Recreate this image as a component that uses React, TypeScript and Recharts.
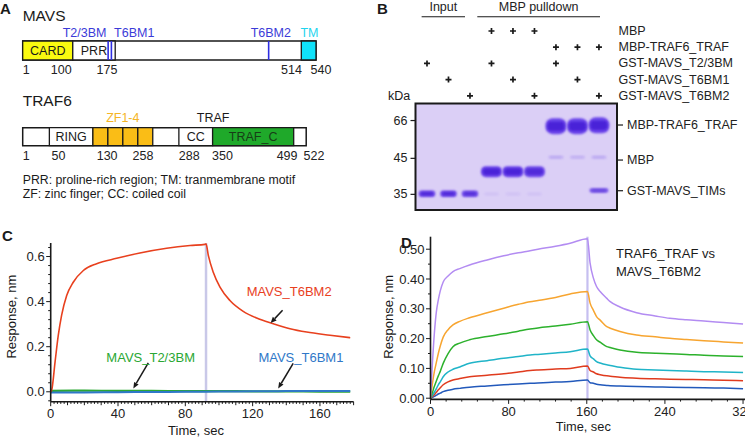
import React from 'react';
import {
  ComposedChart, LineChart, Line, ScatterChart, Scatter, XAxis, YAxis,
  ReferenceArea, ReferenceLine, ReferenceDot,
} from 'recharts';

const FONT = '"Liberation Sans", Arial, Helvetica, sans-serif';
const INK = '#1a1a1a';

// ---------------- Panel A: domain maps (residue numbers) ----------------
const mapScaleMax = 540;
const mavsLength = 540;
const mavsDomains = [
  { name: 'CARD', start: 1, end: 93, color: '#fafa10' },
  { name: 'PRR', start: 93, end: 171, color: '#ffffff' },
  { name: '', start: 513, end: 540, color: '#10e2fa' },
];
const mavsMotifs = [158, 164, 453];
const mavsAbove = [
  { text: 'T2/3BM', at: 155, anchor: 'end', color: '#3b3bd8' },
  { text: 'T6BM1', at: 169, anchor: 'start', color: '#3b3bd8' },
  { text: 'T6BM2', at: 457, anchor: 'middle', color: '#3b3bd8' },
  { text: 'TM', at: 528, anchor: 'middle', color: '#1fd4ee' },
];
const mavsBelow = [
  { text: '1', at: 1, anchor: 'start' },
  { text: '100', at: 91, anchor: 'end' },
  { text: '175', at: 175, anchor: 'end' },
  { text: '514', at: 514, anchor: 'end' },
  { text: '540', at: 530, anchor: 'start' },
];
const traf6Length = 522;
const traf6Domains = [
  { name: 'RING', start: 50, end: 130, color: '#ffffff' },
  { name: '', start: 130, end: 157.5, color: '#fabd16' },
  { name: '', start: 157.5, end: 185, color: '#fabd16' },
  { name: '', start: 185, end: 212.5, color: '#fabd16' },
  { name: '', start: 212.5, end: 240, color: '#fabd16' },
  { name: 'CC', start: 288, end: 350, color: '#ffffff' },
  { name: 'TRAF_C', start: 350, end: 499, color: '#1fa92a' },
];
const traf6Above = [
  { text: 'ZF1-4', at: 185, anchor: 'middle', color: '#f5b526' },
  { text: 'TRAF', at: 351, anchor: 'middle', color: INK },
];
const traf6Below = [
  { text: '1', at: 1, anchor: 'start' },
  { text: '50', at: 54, anchor: 'start' },
  { text: '130', at: 137, anchor: 'start' },
  { text: '258', at: 222, anchor: 'middle' },
  { text: '288', at: 288, anchor: 'start' },
  { text: '350', at: 349, anchor: 'start' },
  { text: '499', at: 506, anchor: 'end' },
  { text: '522', at: 517, anchor: 'start' },
];

// ---------------- Panel B: pulldown gel ----------------
const pulldownRows = ['MBP', 'MBP-TRAF6_TRAF', 'GST-MAVS_T2/3BM', 'GST-MAVS_T6BM1', 'GST-MAVS_T6BM2'];
const pulldownTable = [
  [0, 0, 0, 1, 1, 1, 0, 0, 0],
  [0, 0, 0, 0, 0, 0, 1, 1, 1],
  [1, 0, 0, 1, 0, 0, 1, 0, 0],
  [0, 1, 0, 0, 1, 0, 0, 1, 0],
  [0, 0, 1, 0, 0, 1, 0, 0, 1],
];
const laneGroups = [
  { name: 'Input', from: 0.75, to: 2.77 },
  { name: 'MBP pulldown', from: 3.34, to: 9.05 },
];
const markerKDa = ['66', '45', '35'];
const markerRf = [0.16, 0.515, 0.853];
const bandNames = ['MBP-TRAF6_TRAF', 'MBP', 'GST-MAVS_TIMs'];
const bandNameRf = [0.202, 0.531, 0.819];
const gelBands = [
  { lane: 1, rf: 0.847, kind: 'gst', intensity: 0.95 },
  { lane: 2, rf: 0.847, kind: 'gst', intensity: 0.95 },
  { lane: 3, rf: 0.847, kind: 'gst', intensity: 0.9 },
  { lane: 4, rf: 0.64, kind: 'mbp', intensity: 1 },
  { lane: 5, rf: 0.64, kind: 'mbp', intensity: 1 },
  { lane: 6, rf: 0.64, kind: 'mbp', intensity: 0.95 },
  { lane: 7, rf: 0.213, kind: 'traf', intensity: 1 },
  { lane: 8, rf: 0.213, kind: 'traf', intensity: 1 },
  { lane: 9, rf: 0.205, kind: 'traf', intensity: 1 },
  { lane: 7, rf: 0.505, kind: 'faint', intensity: 0.22 },
  { lane: 8, rf: 0.505, kind: 'faint', intensity: 0.18 },
  { lane: 9, rf: 0.505, kind: 'faint', intensity: 0.22 },
  { lane: 9, rf: 0.816, kind: 'gst9', intensity: 0.8 },
  { lane: 4, rf: 0.85, kind: 'faint', intensity: 0.07 },
  { lane: 5, rf: 0.85, kind: 'faint', intensity: 0.07 },
  { lane: 6, rf: 0.85, kind: 'faint', intensity: 0.07 },
];

// ---------------- Panel C: BLI sensorgrams ----------------
const cT6BM2Time = [0, 0.6, 2.6, 4.5, 6.5, 9.5, 13.4, 19.4, 27.3, 39.2, 53, 68.9, 82.8, 91.7, 92.3, 93.7, 96.6, 100.6, 106.5, 114.4, 122.4, 132.3, 142.2, 152.1, 166, 178];
const cT6BM2 = [0, 0.008, 0.133, 0.25, 0.34, 0.427, 0.486, 0.538, 0.568, 0.592, 0.616, 0.637, 0.649, 0.654, 0.656, 0.604, 0.53, 0.464, 0.405, 0.357, 0.327, 0.302, 0.28, 0.265, 0.251, 0.24];
const cBaseTime = [0, 20, 40, 60, 80, 100, 120, 140, 160, 178];
const cT23BM = [0.004, 0.005, 0.004, 0.004, 0.003, 0.003, 0.002, 0.002, 0.001, 0.001];
const cT6BM1 = [-0.003, -0.003, -0.002, -0.001, 0, 0.001, 0.002, 0.003, 0.003, 0.003];
const cXLabels = [0, 40, 80, 120, 160];
const cYLabels = [0, 0.2, 0.4, 0.6];
const cDissociationStart = 92.3;

// ---------------- Panel D: concentration series ----------------
const dTime = [0, 2, 4, 6, 8, 10, 13, 18, 23, 30, 40, 58, 75, 90, 102, 110, 128, 143, 160.7, 163.4, 166.8, 170, 173.7, 180.5, 184, 194, 211, 230, 245, 262, 280, 300, 320];
const dPurple = [0, 0.12, 0.22, 0.29, 0.33, 0.36, 0.39, 0.41, 0.425, 0.435, 0.447, 0.464, 0.478, 0.488, 0.495, 0.5, 0.51, 0.52, 0.535, 0.453, 0.403, 0.375, 0.358, 0.335, 0.324, 0.306, 0.287, 0.276, 0.268, 0.263, 0.259, 0.254, 0.249];
const dOrange = [0, 0.05, 0.09, 0.12, 0.15, 0.175, 0.205, 0.23, 0.246, 0.258, 0.27, 0.287, 0.302, 0.315, 0.324, 0.328, 0.338, 0.35, 0.358, 0.319, 0.295, 0.274, 0.262, 0.24, 0.235, 0.224, 0.212, 0.206, 0.201, 0.197, 0.193, 0.189, 0.185];
const dGreen = [0, 0.02, 0.04, 0.058, 0.075, 0.09, 0.117, 0.15, 0.173, 0.185, 0.196, 0.207, 0.216, 0.225, 0.232, 0.236, 0.242, 0.248, 0.257, 0.229, 0.21, 0.196, 0.188, 0.173, 0.17, 0.162, 0.154, 0.151, 0.149, 0.147, 0.144, 0.142, 0.14];
const dCyan = [0, 0.01, 0.02, 0.032, 0.045, 0.055, 0.072, 0.088, 0.097, 0.105, 0.117, 0.126, 0.134, 0.14, 0.145, 0.147, 0.152, 0.156, 0.165, 0.142, 0.132, 0.123, 0.118, 0.112, 0.11, 0.104, 0.097, 0.095, 0.093, 0.091, 0.089, 0.088, 0.086];
const dRed = [0, 0.006, 0.012, 0.02, 0.028, 0.035, 0.045, 0.055, 0.061, 0.066, 0.072, 0.077, 0.082, 0.088, 0.093, 0.095, 0.098, 0.1, 0.108, 0.093, 0.088, 0.082, 0.079, 0.075, 0.074, 0.07, 0.067, 0.065, 0.064, 0.063, 0.062, 0.06, 0.059];
const dBlue = [0, 0.003, 0.006, 0.01, 0.014, 0.017, 0.022, 0.027, 0.03, 0.033, 0.037, 0.041, 0.045, 0.048, 0.05, 0.051, 0.054, 0.056, 0.061, 0.052, 0.05, 0.047, 0.045, 0.043, 0.042, 0.041, 0.039, 0.038, 0.037, 0.036, 0.035, 0.034, 0.032];
const dXLabels = [0, 80, 160, 240, 320];
const dYLabels = [0, 0.1, 0.2, 0.3, 0.4, 0.5];
const dDissociationStart = 160.7;

// ---------------- derived tables ----------------
const plusMarks = pulldownTable.flatMap((row, r) =>
  row.map((v, i) => (v ? { lane: i + 1, row: r } : null)).filter(Boolean)
) as { lane: number; row: number }[];
const cRedData = cT6BM2Time.map((t, i) => ({ t, v: cT6BM2[i] }));
const cGreenData = cBaseTime.map((t, i) => ({ t, v: cT23BM[i] }));
const cBlueData = cBaseTime.map((t, i) => ({ t, v: cT6BM1[i] }));
const dData = dTime.map((t, i) => ({
  t, p: dPurple[i], o: dOrange[i], g: dGreen[i], c: dCyan[i], r: dRed[i], b: dBlue[i],
}));
const range = (a: number, b: number, step: number) => {
  const out: number[] = [];
  const n = Math.round((b - a) / step);
  for (let i = 0; i <= n; i++) out.push(Math.round((a + i * step) * 1000) / 1000);
  return out;
};
const cXTicks = range(0, 180, 2);
const cYTicks = range(-0.04, 0.64, 0.04);
const dXTicks = range(0, 320, 16);
const dYTicks = range(0, 0.5, 0.05);

// ---------------- shapes ----------------
const near = (a: number, b: number) => Math.abs(a - b) < 1e-6;

const textShape = (text: string, anchor: string, color: string, size: number) => (p: any) => (
  <text x={p.cx} y={p.cy} textAnchor={anchor} dominantBaseline="central" fill={color}
    fontSize={size} fontFamily={FONT}>{text}</text>
);

function makeXTick(labels: number[], medStep: number, dy: number, fmt: (v: number) => string) {
  return (p: any) => {
    const v = p.payload.value;
    const lab = labels.some((l) => near(l, v));
    const med = medStep > 0 && near(v / medStep, Math.round(v / medStep));
    const len = lab ? 4.5 : med ? 3.5 : 2.2;
    return (
      <g>
        <line x1={p.x} x2={p.x} y1={p.y} y2={p.y + len} stroke={INK} strokeWidth={1} />
        {lab && (
          <text x={p.x} y={p.y + dy} textAnchor="middle" dominantBaseline="central" fontSize={13}
            fill="#222" fontFamily={FONT}>{fmt(v)}</text>
        )}
      </g>
    );
  };
}
function makeYTick(labels: number[], fmt: (v: number) => string) {
  return (p: any) => {
    const v = p.payload.value;
    const lab = labels.some((l) => near(l, v));
    const len = lab ? 4.5 : 2.5;
    return (
      <g>
        <line x1={p.x - len} x2={p.x} y1={p.y} y2={p.y} stroke={INK} strokeWidth={1} />
        {lab && (
          <text x={p.x - 6} y={p.y} textAnchor="end" dominantBaseline="central" fontSize={13}
            fill="#222" fontFamily={FONT}>{fmt(v)}</text>
        )}
      </g>
    );
  };
}

const ArrowLine = (p: any) => {
  const { x1, y1, x2, y2 } = p;
  const dx = x2 - x1, dy = y2 - y1;
  const L = Math.hypot(dx, dy) || 1;
  const ux = dx / L, uy = dy / L;
  const hl = 6, hw = 2.6;
  const bx = x2 - ux * hl, by = y2 - uy * hl;
  return (
    <g>
      <line x1={x1} y1={y1} x2={bx} y2={by} stroke={INK} strokeWidth={1.5} />
      <polygon points={`${x2},${y2} ${bx - uy * hw},${by + ux * hw} ${bx + uy * hw},${by - ux * hw}`} fill={INK} />
    </g>
  );
};

const PlusShape = (p: any) => (
  <path d={`M${p.cx - 3},${p.cy}H${p.cx + 3}M${p.cx},${p.cy - 3}V${p.cy + 3}`}
    stroke={INK} strokeWidth={1.7} />
);

const BAND_SIZE: Record<string, [number, number]> = {
  gst: [16.5, 6.5], mbp: [21, 11], traf: [21, 16], faint: [15, 3], gst9: [19, 4.5],
};
const BandShape = (p: any) => {
  const d = p.payload || p;
  const [w, h] = BAND_SIZE[d.kind];
  return (
    <g opacity={d.intensity}>
      <rect x={p.cx - w / 2} y={p.cy - h / 2} width={w} height={h} rx={h / 2.2} fill="#6a45ea" filter="url(#gelBlur)" />
      <rect x={p.cx - w / 2 + 2} y={p.cy - h / 2 + h * 0.22} width={w - 4} height={h * 0.56} rx={h / 4}
        fill="#4a22d8" filter="url(#gelBlur)" />
    </g>
  );
};

const MarkerTick = (p: any) => {
  const i = markerRf.findIndex((r) => near(r, p.payload.value));
  return (
    <g>
      <line x1={p.x - 5} x2={p.x} y1={p.y} y2={p.y} stroke={INK} strokeWidth={1.2} />
      <text x={p.x - 8} y={p.y} textAnchor="end" dominantBaseline="central" fontSize={12.5}
        fill="#222" fontFamily={FONT}>{markerKDa[i]}</text>
    </g>
  );
};
const BandTick = (p: any) => {
  const i = bandNameRf.findIndex((r) => near(r, p.payload.value));
  return (
    <g>
      <line x1={p.x} x2={p.x + 6} y1={p.y} y2={p.y} stroke={INK} strokeWidth={1.2} />
      <text x={p.x + 10} y={p.y} textAnchor="start" dominantBaseline="central" fontSize={12.5}
        fill="#222" fontFamily={FONT}>{bandNames[i]}</text>
    </g>
  );
};
const RowTick = (p: any) => (
  <text x={p.x + 1.5} y={p.y} textAnchor="start" dominantBaseline="central" fontSize={12.5}
    fill="#222" fontFamily={FONT}>{pulldownRows[p.payload.value]}</text>
);

// ---------------- components ----------------
type Lab = { text: string; at: number; anchor: string; color?: string };
function ProteinMap(props: {
  top: number; mTop: number; mBottom: number; length: number;
  domains: typeof mavsDomains; motifs: number[]; above: Lab[]; below: Lab[];
  aboveY: number; belowY: number;
}) {
  const { top, mTop, mBottom, length, domains, motifs, above, below, aboveY, belowY } = props;
  const H = 80;
  return (
    <div style={{ position: 'absolute', left: 0, top, width: 340, height: H }}>
      <ComposedChart width={340} height={H} margin={{ top: mTop, right: 24, bottom: mBottom, left: 22.7 }} data={domains}>
        <XAxis type="number" dataKey="start" domain={[1, mapScaleMax]} hide allowDataOverflow />
        <YAxis type="number" domain={[0, 1]} hide allowDataOverflow />
        <ReferenceArea x1={1} x2={length} y1={0} y2={1} fill="#ffffff" fillOpacity={1}
          stroke={INK} strokeWidth={1.5} ifOverflow="visible" />
        {domains.map((d, i) => (
          <ReferenceArea key={'d' + i} x1={d.start} x2={d.end} y1={0} y2={1} fill={d.color} fillOpacity={1}
            stroke={INK} strokeWidth={1.3} ifOverflow="visible"
            label={d.name ? { value: d.name, position: 'center', fontSize: 12.5, fill: d.name === 'TRAF_C' ? '#173d17' : '#1a1a1a', fontFamily: FONT } : undefined} />
        ))}
        {motifs.map((m, i) => (
          <ReferenceLine key={'m' + i} x={m} stroke="#2e2ee2" strokeWidth={1.6} ifOverflow="visible" />
        ))}
        {above.map((l, i) => (
          <ReferenceDot key={'a' + i} x={l.at} y={aboveY} ifOverflow="visible"
            shape={textShape(l.text, l.anchor, l.color || INK, 12.5)} />
        ))}
        {below.map((l, i) => (
          <ReferenceDot key={'b' + i} x={l.at} y={belowY} ifOverflow="visible"
            shape={textShape(l.text, l.anchor, '#222', 12.5)} />
        ))}
      </ComposedChart>
    </div>
  );
}

const axisLineStyle = { stroke: INK, strokeWidth: 1.6 };

export default function App() {
  return (
    <div style={{ position: 'absolute', left: 0, top: 0, width: 745, height: 438, background: '#fff', overflow: 'hidden', fontFamily: FONT }}>
      <svg width={0} height={0} style={{ position: 'absolute' }}>
        <defs>
          <filter id="gelBlur" x="-50%" y="-80%" width="200%" height="260%">
            <feGaussianBlur stdDeviation="1.1" />
          </filter>
        </defs>
      </svg>

      {/* Panel A */}
      <ProteinMap top={0} mTop={41} mBottom={20} length={mavsLength} domains={mavsDomains}
        motifs={mavsMotifs} above={mavsAbove} below={mavsBelow} aboveY={1.405} belowY={-0.542} />
      <ProteinMap top={90} mTop={37.7} mBottom={24.3} length={traf6Length} domains={traf6Domains}
        motifs={[]} above={traf6Above} below={traf6Below} aboveY={1.52} belowY={-0.556} />

      {/* Panel B: table of + */}
      <div style={{ position: 'absolute', left: 370, top: 0, width: 375, height: 105 }}>
        <ScatterChart width={375} height={105} margin={{ top: 22.9, right: 8, bottom: 1.1, left: 45.5 }}>
          <XAxis type="number" dataKey="lane" domain={[0.465, 9.84]} hide allowDataOverflow />
          <YAxis type="number" dataKey="row" orientation="right" domain={[-0.5, 4.5]} reversed width={120}
            ticks={[0, 1, 2, 3, 4]} interval={0} axisLine={false} tickLine={false} tickSize={0} tickMargin={0}
            tick={RowTick} allowDataOverflow />
          {laneGroups.map((g, i) => (
            <ReferenceLine key={'u' + i} segment={[{ x: g.from, y: -0.88 }, { x: g.to, y: -0.88 }]}
              stroke={INK} strokeWidth={1.2} ifOverflow="visible" />
          ))}
          {laneGroups.map((g, i) => (
            <ReferenceDot key={'h' + i} x={(g.from + g.to) / 2} y={-1.47} ifOverflow="visible"
              shape={textShape(g.name, 'middle', '#222', 12.5)} />
          ))}
          <Scatter data={plusMarks} shape={PlusShape} isAnimationActive={false} />
        </ScatterChart>
      </div>

      {/* Panel B: gel */}
      <div style={{ position: 'absolute', left: 370, top: 95, width: 375, height: 125 }}>
        <ScatterChart width={375} height={125} margin={{ top: 8.5, right: 8, bottom: 10, left: 5.5 }}>
          <XAxis type="number" dataKey="lane" domain={[0.465, 9.84]} hide allowDataOverflow />
          <YAxis yAxisId="l" type="number" dataKey="rf" domain={[0, 1]} reversed width={40}
            ticks={markerRf} interval={0} axisLine={false} tickLine={false} tickSize={0} tickMargin={0}
            tick={MarkerTick} allowDataOverflow />
          <YAxis yAxisId="r" orientation="right" type="number" domain={[0, 1]} reversed width={120}
            ticks={bandNameRf} interval={0} axisLine={false} tickLine={false} tickSize={0} tickMargin={0}
            tick={BandTick} allowDataOverflow />
          <ReferenceArea yAxisId="l" x1={0.465} x2={9.84} y1={0} y2={1} fill="#dbcff6" fillOpacity={1}
            stroke={INK} strokeWidth={2} ifOverflow="visible" />
          <Scatter yAxisId="l" data={gelBands} shape={BandShape} isAnimationActive={false} />
        </ScatterChart>
      </div>

      {/* Panel C */}
      <div style={{ position: 'absolute', left: 0, top: 220, width: 370, height: 218 }}>
        <LineChart width={370} height={218} margin={{ top: 23, right: 16.4, bottom: 6.3, left: 10.7 }}>
          <XAxis type="number" dataKey="t" domain={[0, 180]} ticks={cXTicks} interval={0} height={30}
            axisLine={axisLineStyle} tickLine={false} tickSize={0} tickMargin={0}
            tick={makeXTick(cXLabels, 10, 11.5, (v) => String(v))} allowDataOverflow />
          <YAxis type="number" domain={[-0.044, 0.66]} ticks={cYTicks} interval={0} width={40}
            axisLine={axisLineStyle} tickLine={false} tickSize={0} tickMargin={0}
            tick={makeYTick(cYLabels, (v) => v.toFixed(1))} allowDataOverflow />
          <ReferenceLine x={cDissociationStart} stroke="#c9c8e8" strokeWidth={2.5} />
          <Line data={cGreenData} dataKey="v" type="monotone" stroke="#2aa733" strokeWidth={2.2} dot={false} isAnimationActive={false} />
          <Line data={cBlueData} dataKey="v" type="monotone" stroke="#2f78c8" strokeWidth={2} dot={false} isAnimationActive={false} />
          <Line data={cRedData} dataKey="v" type="monotone" stroke="#e8401e" strokeWidth={1.6} dot={false} isAnimationActive={false} />
          <ReferenceDot x={141.7} y={0.445} ifOverflow="visible" shape={textShape('MAVS_T6BM2', 'middle', '#e8401e', 13)} />
          <ReferenceDot x={59.4} y={0.152} ifOverflow="visible" shape={textShape('MAVS_T2/3BM', 'middle', '#2aa733', 13)} />
          <ReferenceDot x={148.7} y={0.152} ifOverflow="visible" shape={textShape('MAVS_T6BM1', 'middle', '#2f78c8', 13)} />
          <ReferenceLine segment={[{ x: 137.8, y: 0.362 }, { x: 130.7, y: 0.305 }]} shape={ArrowLine} ifOverflow="visible" />
          <ReferenceLine segment={[{ x: 58, y: 0.128 }, { x: 49.1, y: 0.015 }]} shape={ArrowLine} ifOverflow="visible" />
          <ReferenceLine segment={[{ x: 144.1, y: 0.126 }, { x: 135.2, y: 0.015 }]} shape={ArrowLine} ifOverflow="visible" />
        </LineChart>
      </div>

      {/* Panel D */}
      <div style={{ position: 'absolute', left: 370, top: 220, width: 375, height: 218 }}>
        <LineChart width={375} height={218} data={dData} margin={{ top: 16.7, right: 0, bottom: 8.6, left: 20.5 }}>
          <XAxis type="number" dataKey="t" domain={[0, 322]} ticks={dXTicks} interval={0} height={30}
            axisLine={axisLineStyle} tickLine={false} tickSize={0} tickMargin={0}
            tick={makeXTick(dXLabels, 0, 12.3, (v) => String(v))} allowDataOverflow />
          <YAxis type="number" domain={[-0.004, 0.542]} ticks={dYTicks} interval={0} width={40}
            axisLine={axisLineStyle} tickLine={false} tickSize={0} tickMargin={0}
            tick={makeYTick(dYLabels, (v) => v.toFixed(2))} allowDataOverflow />
          <ReferenceLine x={dDissociationStart} stroke="#c6bff0" strokeWidth={2.2} />
          <Line dataKey="b" type="monotone" stroke="#2259bb" strokeWidth={1.5} dot={false} isAnimationActive={false} />
          <Line dataKey="r" type="monotone" stroke="#e03b1e" strokeWidth={1.5} dot={false} isAnimationActive={false} />
          <Line dataKey="c" type="monotone" stroke="#20b4c8" strokeWidth={1.5} dot={false} isAnimationActive={false} />
          <Line dataKey="g" type="monotone" stroke="#2cb12c" strokeWidth={1.5} dot={false} isAnimationActive={false} />
          <Line dataKey="o" type="monotone" stroke="#f7a530" strokeWidth={1.5} dot={false} isAnimationActive={false} />
          <Line dataKey="p" type="monotone" stroke="#b38cf2" strokeWidth={1.5} dot={false} isAnimationActive={false} />
        </LineChart>
      </div>

      {/* Overlay text */}
      <svg width={745} height={438} style={{ position: 'absolute', left: 0, top: 0, pointerEvents: 'none' }}
        fontFamily={FONT} fill="#1a1a1a">
        <g fontWeight="bold" fontSize={15} dominantBaseline="central">
          <text x={0} y={8.5} dominantBaseline="central">A</text>
          <text x={377} y={8.5} dominantBaseline="central">B</text>
          <text x={2} y={235} dominantBaseline="central">C</text>
          <text x={401} y={242} dominantBaseline="central">D</text>
        </g>
        <text x={22.7} y={15} fontSize={15.5} dominantBaseline="central">MAVS</text>
        <text x={22.7} y={100} fontSize={15.5} dominantBaseline="central">TRAF6</text>
        <text x={22.7} y={180} fontSize={12.3} dominantBaseline="central">PRR: proline-rich region; TM: tranmembrane motif</text>
        <text x={22.7} y={194.3} fontSize={12.3} dominantBaseline="central">ZF: zinc finger; CC: coiled coil</text>
        <text x={388} y={95.7} fontSize={12.5} dominantBaseline="central">kDa</text>
        <text x={11.7} y={316.7} fontSize={13} textAnchor="middle" dominantBaseline="central" transform="rotate(-90 11.7 316.7)">Response, nm</text>
        <text x={196} y={430.7} fontSize={13} textAnchor="middle" dominantBaseline="central">Time, sec</text>
        <text x={388.3} y={316.7} fontSize={13} textAnchor="middle" dominantBaseline="central" transform="rotate(-90 388.3 316.7)">Response, nm</text>
        <text x={583.3} y={426} fontSize={12.8} textAnchor="middle" dominantBaseline="central">Time, sec</text>
        <text x={616} y={253.3} fontSize={13} dominantBaseline="central">TRAF6_TRAF vs</text>
        <text x={616} y={271.7} fontSize={13} dominantBaseline="central">MAVS_T6BM2</text>
      </svg>
    </div>
  );
}
